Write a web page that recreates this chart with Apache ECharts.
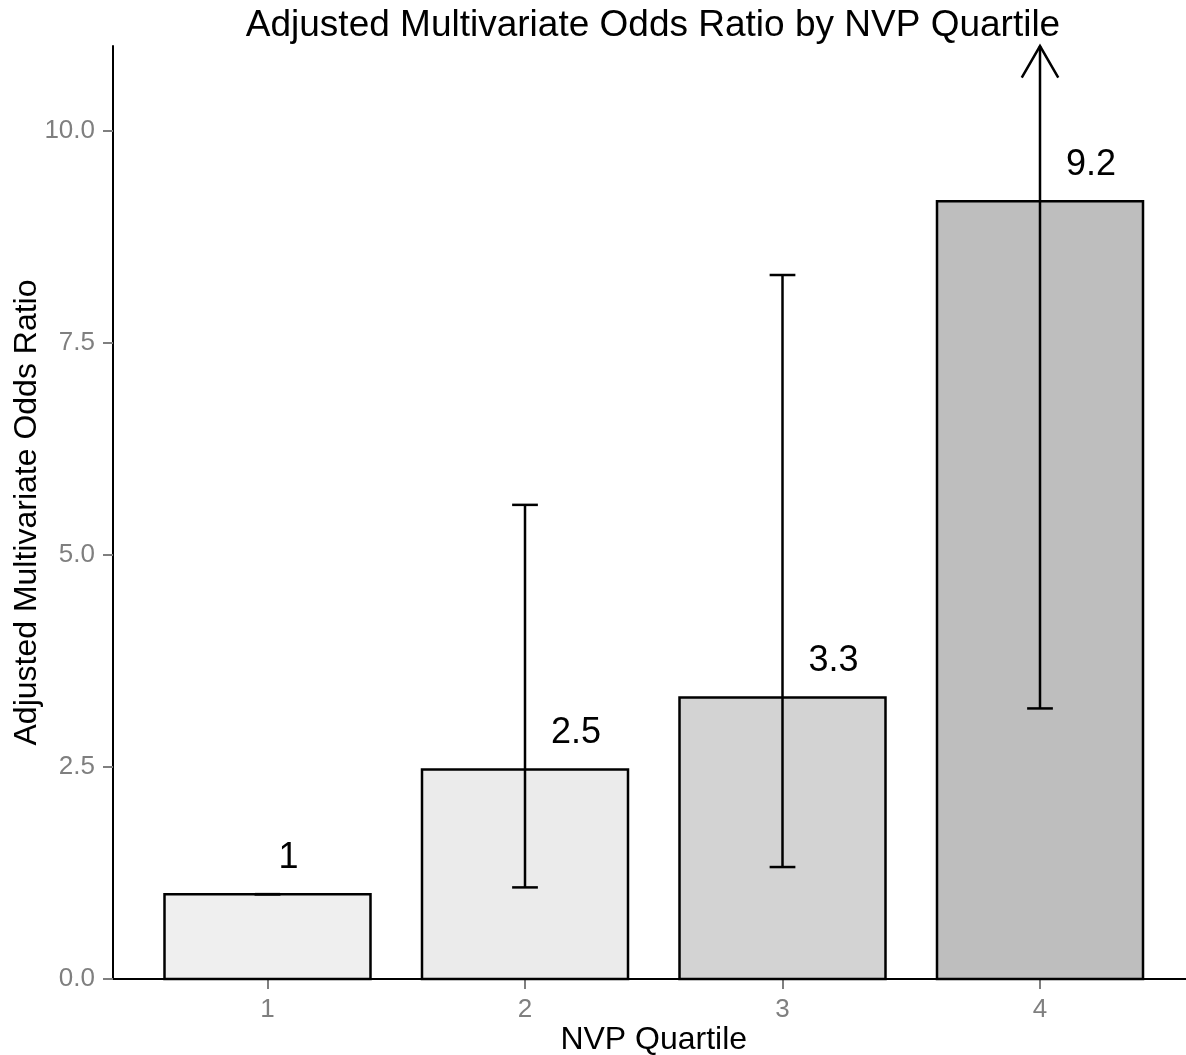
<!DOCTYPE html>
<html><head><meta charset="utf-8">
<script src="https://cdn.jsdelivr.net/npm/echarts@6/dist/echarts.min.js"></script>
<style>html,body{margin:0;padding:0;background:#fff}#c{width:1186px;height:1055px}</style>
</head><body><div id="c"></div>
<script>
// ---- data ----
const categories = ['1', '2', '3', '4'];
const oddsRatio = [1.0, 2.47, 3.32, 9.17];
const ciLower  = [1.0, 1.08, 1.32, 3.19];
const ciUpper  = [1.0, 5.59, 8.30, null]; // null: upper limit beyond plotted range (drawn as arrow)
const barLabels = ['1', '2.5', '3.3', '9.2'];
const barColors = ['#efefef', '#ebebeb', '#d3d3d3', '#bebebe'];
const yTicks = [0, 2.5, 5, 7.5, 10];
const yMax = 11;

const FAMILY = '"Liberation Sans", Arial, sans-serif';
const titleText = 'Adjusted Multivariate Odds Ratio by NVP Quartile';
const xName = 'NVP Quartile';
const yName = 'Adjusted Multivariate Odds Ratio';

const LABEL_SIZE = 36;
const measureCtx = document.createElement('canvas').getContext('2d');
function textWidth(t, size) { measureCtx.font = size + 'px ' + FAMILY; return measureCtx.measureText(t).width; }

const xPos = categories.map((c, i) => i + 1);
const seriesData = xPos.map((x, i) => [x, oddsRatio[i]]);

function renderItem(params, api) {
  const i = params.dataIndex;
  const x = api.value(0), v = api.value(1);
  const b0 = api.coord([x - 0.4, 0]);
  const b1 = api.coord([x + 0.4, v]);
  const children = [];
  children.push({
    type: 'rect',
    shape: { x: b0[0], y: b1[1], width: b1[0] - b0[0], height: b0[1] - b1[1] },
    style: { fill: barColors[i], stroke: '#000', lineWidth: 2.5 }
  });
  const lo = api.coord([x, ciLower[i]]);
  const arrow = ciUpper[i] == null;
  const hi = api.coord([x, arrow ? yMax : ciUpper[i]]);
  const eb = { stroke: '#000', lineWidth: 2.5 };
  children.push({ type: 'line', shape: { x1: lo[0], y1: lo[1], x2: hi[0], y2: hi[1] }, style: eb });
  const cl0 = api.coord([x - 0.05, ciLower[i]]), cl1 = api.coord([x + 0.05, ciLower[i]]);
  children.push({ type: 'line', shape: { x1: cl0[0], y1: cl0[1], x2: cl1[0], y2: cl1[1] }, style: eb });
  if (!arrow) {
    const ch0 = api.coord([x - 0.05, ciUpper[i]]), ch1 = api.coord([x + 0.05, ciUpper[i]]);
    children.push({ type: 'line', shape: { x1: ch0[0], y1: ch0[1], x2: ch1[0], y2: ch1[1] }, style: eb });
  } else {
    const L = 36.5, a = Math.PI / 6;
    children.push({ type: 'polyline', shape: { points: [
      [hi[0] - L * Math.sin(a), hi[1] + L * Math.cos(a)], [hi[0], hi[1]], [hi[0] + L * Math.sin(a), hi[1] + L * Math.cos(a)]
    ] }, style: { stroke: '#000', lineWidth: 2.5, fill: null } });
  }
  const t = barLabels[i];
  const w = textWidth(t, LABEL_SIZE);
  children.push({
    type: 'text',
    style: { text: t, x: b0[0] + (b1[0] - b0[0]) / 2 + 0.5 * w + 1, y: b1[1] - 36,
      align: 'left', verticalAlign: 'middle', font: LABEL_SIZE + 'px ' + FAMILY, fill: '#000' }
  });
  return { type: 'group', children };
}

const chart = echarts.init(document.getElementById('c'), null, { renderer: 'canvas' });
chart.setOption({
  animation: false,
  backgroundColor: '#fff',
  grid: { left: 113, right: -8.5, top: 46, bottom: 76, containLabel: false, outerBoundsMode: 'none' },
  graphic: [{
    type: 'text', x: 653, y: 7,
    style: { text: titleText, font: '37px ' + FAMILY, fill: '#000', align: 'center', verticalAlign: 'top' }
  }],
  xAxis: {
    type: 'value', min: 0.4, max: 4.6,
    splitLine: { show: false },
    axisLine: { show: true, onZero: false, lineStyle: { color: '#000', width: 2 } },
    axisTick: { show: true, customValues: xPos, length: 10, lineStyle: { color: '#7f7f7f', width: 2 } },
    axisLabel: { customValues: xPos, formatter: v => categories[Math.round(v) - 1], fontSize: 26, color: '#7f7f7f', margin: 18, fontFamily: FAMILY },
    name: xName, nameLocation: 'middle', nameGap: 45, nameMoveOverlap: false,
    nameTextStyle: { fontSize: 32, color: '#000', fontFamily: FAMILY }
  },
  yAxis: {
    type: 'value', min: 0, max: yMax,
    splitLine: { show: false },
    axisLine: { show: true, lineStyle: { color: '#000', width: 2 } },
    axisTick: { show: true, customValues: yTicks, length: 10, lineStyle: { color: '#7f7f7f', width: 2 } },
    axisLabel: { customValues: yTicks, formatter: v => v.toFixed(1), fontSize: 26, color: '#7f7f7f', margin: 18, fontFamily: FAMILY },
    name: yName, nameLocation: 'middle', nameGap: 70, nameMoveOverlap: false,
    nameTextStyle: { fontSize: 32, color: '#000', fontFamily: FAMILY }
  },
  series: [{
    type: 'custom', clip: false, renderItem, data: seriesData,
    encode: { x: 0, y: 1 }
  }]
});
</script></body></html>
